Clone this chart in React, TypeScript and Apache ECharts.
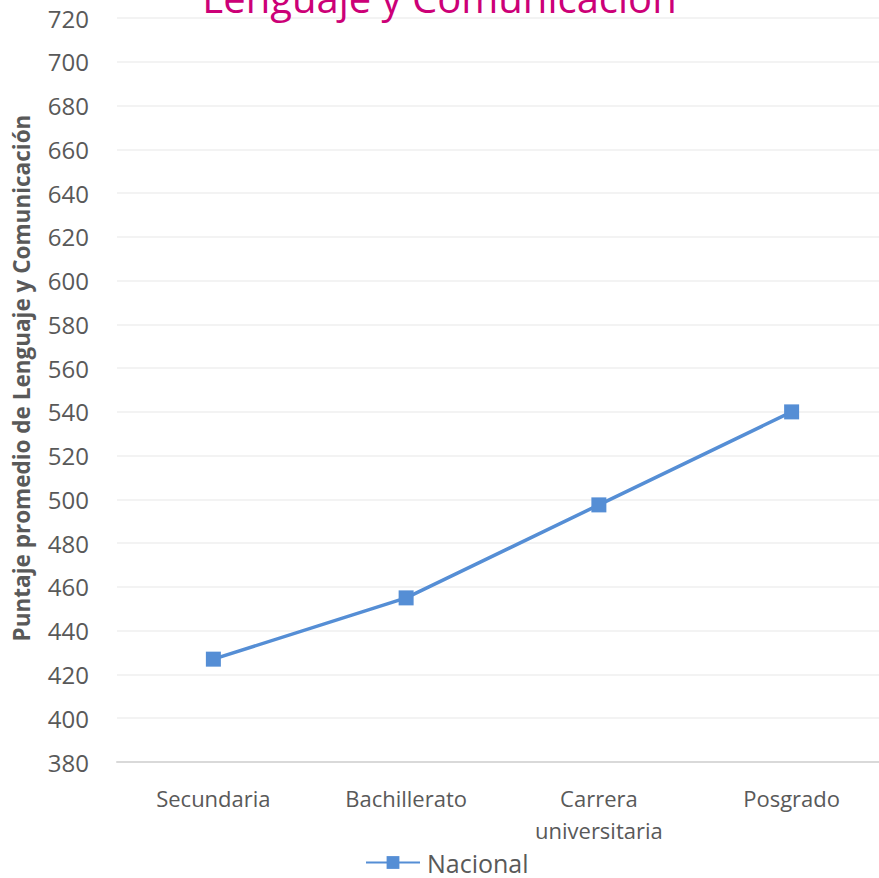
import React, { useEffect, useRef } from "react";
import * as echarts from "echarts";

const categories = ["Secundaria", "Bachillerato", "Carrera\nuniversitaria", "Posgrado"];
const nacional = [427, 455, 497.5, 540];
const seriesName = "Nacional";
const titleText = "Lenguaje y Comunicación";
const yAxisName = "Puntaje promedio de Lenguaje y Comunicación";

const FONT = "'Open Sans', 'Noto Sans', sans-serif";

export default function App() {
  const ref = useRef<HTMLDivElement>(null);
  useEffect(() => {
    document.body.style.margin = "0";
    const chart = echarts.init(ref.current!, null, { renderer: "svg" });
    chart.setOption({
      animation: false,
      backgroundColor: "#ffffff",
      textStyle: { fontFamily: FONT },
      title: {
        text: titleText,
        left: "center",
        top: -28,
        textStyle: { color: "#CC0077", fontSize: 40, fontWeight: "normal", fontFamily: FONT },
      },
      legend: {
        data: [seriesName],
        top: 845,
        left: 360,
        itemWidth: 54,
        itemHeight: 16,
        itemGap: 0,
        textStyle: { color: "#595959", fontSize: 25, fontFamily: FONT, padding: [0, 0, 0, 2] },
      },
      graphic: [
        {
          type: "text",
          x: 21,
          y: 378,
          rotation: Math.PI / 2,
          style: {
            text: yAxisName,
            fill: "#595959",
            font: `bold 22.5px ${FONT}`,
            align: "center",
            verticalAlign: "middle",
          },
        },
      ],
      grid: { left: 117, right: -9, top: 18, bottom: 116, outerBoundsMode: "none", containLabel: false },
      xAxis: {
        type: "category",
        data: categories,
        boundaryGap: true,
        axisLine: { show: true, lineStyle: { color: "#d9d9d9", width: 2 } },
        axisTick: { show: false },
        axisLabel: { color: "#595959", fontSize: 22, fontFamily: FONT, margin: 20, lineHeight: 32 },
      },
      yAxis: {
        type: "value",
        min: 380,
        max: 720,
        interval: 20,
        axisLine: { show: false },
        axisTick: { show: false },
        axisLabel: { color: "#595959", fontSize: 24, fontFamily: FONT, margin: 28, align: "right" },
        splitLine: { lineStyle: { color: "#efefef", width: 1.5 } },
      },
      series: [
        {
          name: seriesName,
          type: "line",
          data: nacional,
          symbol: "rect",
          symbolSize: 15,
          lineStyle: { color: "#558ED5", width: 3.5 },
          itemStyle: { color: "#558ED5" },
        },
      ],
    });
    return () => chart.dispose();
  }, []);
  return <div ref={ref} style={{ width: 879, height: 878 }} />;
}
